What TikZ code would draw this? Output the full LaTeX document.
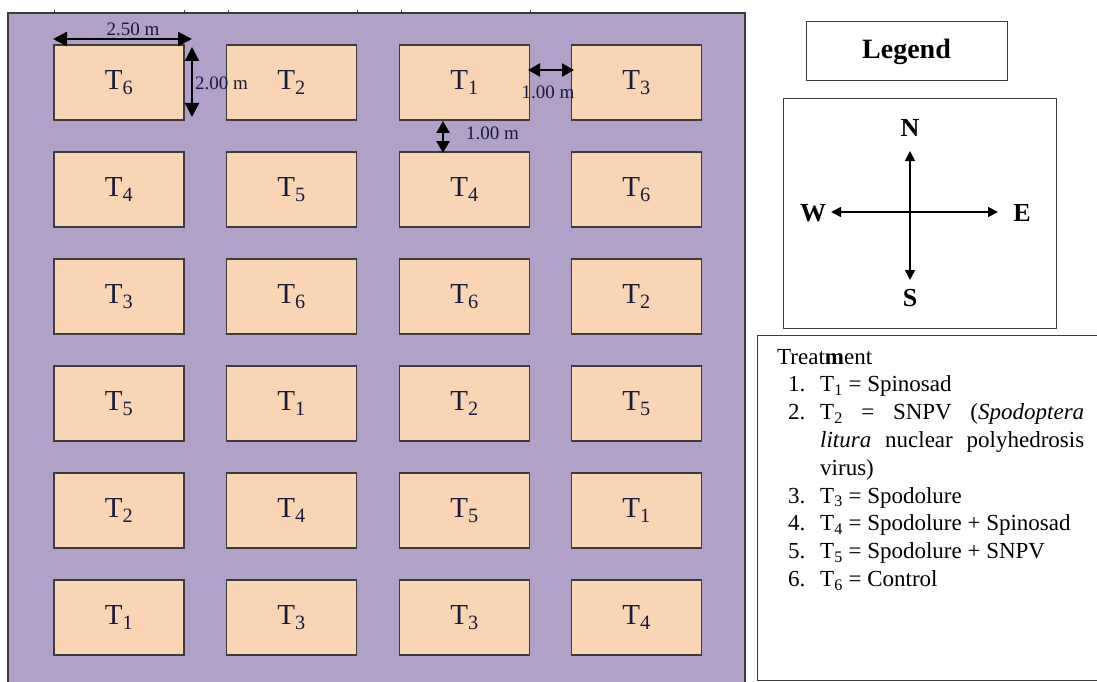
\documentclass[tikz,border=0pt]{standalone}
\usepackage{fontspec}
\setmainfont{Liberation Serif}
\usetikzlibrary{arrows.meta,calc}
\definecolor{fieldc}{RGB}{177,160,199}
\definecolor{plotfill}{RGB}{250,213,180}
\definecolor{ink}{RGB}{26,26,58}
\definecolor{edge}{RGB}{60,60,60}
\begin{document}
\begin{tikzpicture}[x=1pt,y=-1pt,
  plotbox/.style={draw=edge, line width=1.2pt, fill=plotfill, minimum width=130pt, minimum height=75pt, inner sep=0pt, font=\fontsize{29}{29}\selectfont, text=ink},
  dimarrow/.style={line width=2.3pt, {Triangle[width=14pt,length=14pt]}-{Triangle[width=14pt,length=14pt]}},
  smallarrow/.style={line width=2.3pt, {Triangle[width=13pt,length=12pt]}-{Triangle[width=13pt,length=12pt]}},
  dimlabel/.style={font=\fontsize{19}{19}\selectfont, text=ink, inner sep=0pt},
  framebox/.style={draw=edge, line width=1pt, inner sep=0pt},
  compass/.style={line width=1.6pt, -{Triangle[width=10pt,length=10pt]}},
  dirlabel/.style={font=\bfseries\fontsize{26}{26}\selectfont, inner sep=0pt},
  tx/.style={font=\fontsize{23}{23}\selectfont, inner sep=0pt},
  tick/.style={draw=edge, line width=0.8pt}]
\useasboundingbox (0,0) rectangle (1097,682);
% field
\fill[fieldc] (8,13) rectangle (745,682);
\draw[edge, line width=1.2pt] (8,682) -- (8,13) -- (745,13) -- (745,682);
\foreach \xx in {54,184,228,357,401,530} {\draw[tick] (\xx,13) -- (\xx,10);}
% plots
\foreach \r/\yy/\a/\b/\c/\d in {1/82.5/6/2/1/3, 2/189.5/4/5/4/6, 3/296.5/3/6/6/2, 4/403.5/5/1/2/5, 5/510.5/2/4/5/1, 6/617.5/1/3/3/4} {
  \node[plotbox] (p\r-1) at (119,\yy) {T\textsubscript{\a}};
  \node[plotbox] (p\r-2) at (291.5,\yy) {T\textsubscript{\b}};
  \node[plotbox] (p\r-3) at (464.5,\yy) {T\textsubscript{\c}};
  \node[plotbox] (p\r-4) at (636.5,\yy) {T\textsubscript{\d}};
}
% dimensions
\coordinate (w1) at (53,39); \coordinate (w2) at (192,39);
\draw[dimarrow] (w1) -- (w2);
\node[dimlabel] (lw) at (133,29) {2.50 m};
\coordinate (h1) at (192,47); \coordinate (h2) at (192,117);
\draw[dimarrow] (h1) -- (h2);
\node[dimlabel, anchor=west] (lh) at (195,83) {2.00 m};
\coordinate (g1) at (528,70); \coordinate (g2) at (574,70);
\draw[smallarrow] (g1) -- (g2);
\node[dimlabel] (lg) at (548,92) {1.00 m};
\coordinate (v1) at (443,121); \coordinate (v2) at (443,153);
\draw[smallarrow] (v1) -- (v2);
\node[dimlabel, anchor=west] (lv) at (466,133) {1.00 m};
% legend
\node[framebox, minimum width=201pt, minimum height=59pt, font=\bfseries\fontsize{28}{28}\selectfont] (legend) at (906.5,51.5) {Legend};
\node[framebox, minimum width=273pt, minimum height=229pt] (cbox) at (919.5,213.5) {};
\coordinate (cc) at (910,212);
\coordinate (cn) at (910,151); \coordinate (cs) at (910,280);
\coordinate (cw) at (831,212); \coordinate (ce) at (998,212);
\draw[compass] (cc) -- (cn);
\draw[compass] (cc) -- (cs);
\draw[compass] (cc) -- (cw);
\draw[compass] (cc) -- (ce);
\node[dirlabel] (nN) at (910,128) {N};
\node[dirlabel] (nS) at (910,298) {S};
\node[dirlabel] (nW) at (813,213) {W};
\node[dirlabel] (nE) at (1022,213) {E};
% treatment box
\node[framebox, anchor=north west, minimum width=345pt, minimum height=345pt] (tbox) at (757,335) {};
\node[tx, anchor=base west] (th) at (777,364) {Treat\textbf{m}ent};
\node[tx, anchor=base west] (n1) at (788,391.8) {1.};
\node[tx, anchor=base west] (t1) at (820,391.8) {T\textsubscript{1} = Spinosad};
\node[tx, anchor=base west] (n2) at (788,419.6) {2.};
\node[tx, anchor=base west] (t2) at (820,419.6) {\makebox[264pt][s]{T\textsubscript{2} = SNPV (\textit{Spodoptera}}};
\node[tx, anchor=base west] (t2b) at (820,447.4) {\makebox[264pt][s]{\textit{litura} nuclear polyhedrosis}};
\node[tx, anchor=base west] (t2c) at (820,475.2) {virus)};
\node[tx, anchor=base west] (n3) at (788,503) {3.};
\node[tx, anchor=base west] (t3) at (820,503) {T\textsubscript{3} = Spodolure};
\node[tx, anchor=base west] (n4) at (788,530.8) {4.};
\node[tx, anchor=base west] (t4) at (820,530.8) {T\textsubscript{4} = Spodolure + Spinosad};
\node[tx, anchor=base west] (n5) at (788,558.6) {5.};
\node[tx, anchor=base west] (t5) at (820,558.6) {T\textsubscript{5} = Spodolure + SNPV};
\node[tx, anchor=base west] (n6) at (788,586.4) {6.};
\node[tx, anchor=base west] (t6) at (820,586.4) {T\textsubscript{6} = Control};
\end{tikzpicture}
\end{document}
